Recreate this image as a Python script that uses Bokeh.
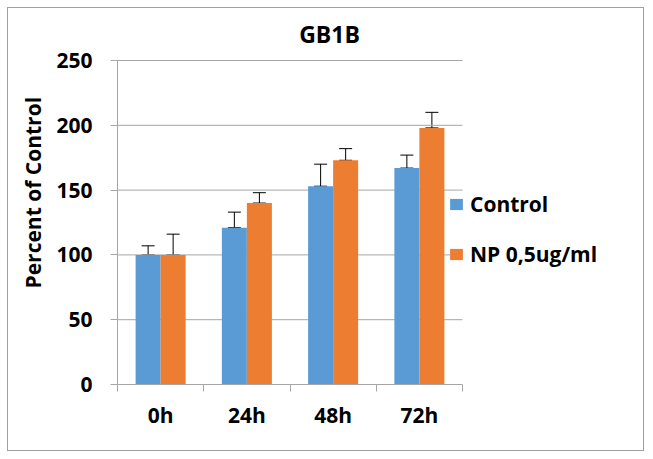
import numpy as np
from bokeh.plotting import figure
from bokeh.models import (ColumnDataSource, Whisker, TeeHead, FixedTicker, Range1d,
                          Legend, LegendItem, Title, Label)
from bokeh.embed import file_html
from bokeh.resources import INLINE

categories = ["0h", "24h", "48h", "72h"]
control = [100, 121, 153, 167]
control_err = [7, 12, 17, 10]
np_vals = [100, 140, 173, 198]
np_err = [16, 8, 9, 12]
series_names = ["Control", "NP 0,5ug/ml"]
colors = ["#5B9BD5", "#ED7D31"]
y_ticks = [0, 50, 100, 150, 200, 250]
chart_title = "GB1B"

FONT = "Open Sans"
GRAY = "#a6a6a6"

# layout (pixels)
W, H = 637, 444
ML, MR, MT, MB = 109, 5, 0, 68
frame_w = W - ML - MR
frame_h = H - MT - MB
cat_px = 345.0   # pixel span of the four categories
val_px = 324.0   # pixel span of 0..250
ymax = y_ticks[-1]
ncat = len(categories)
x_end = ncat * frame_w / cat_px
y_end = ymax * frame_h / val_px

p = figure(width=W, height=H, output_backend="svg", toolbar_location=None,
           x_range=Range1d(0, x_end), y_range=Range1d(0, y_end),
           min_border_left=ML, min_border_right=MR, min_border_top=MT,
           min_border_bottom=MB)
p.title = None
p.outline_line_color = None
p.styles = {"border": "1px solid #a0a0a0", "margin-left": "7px", "margin-top": "7px"}

# gridlines limited to the category span
gy = [t for t in y_ticks if t > 0]
p.segment(x0=[0] * len(gy), x1=[ncat] * len(gy), y0=gy, y1=gy,
          line_color=GRAY, line_width=1)

centers = np.arange(ncat) + 0.5
offset = 0.145
bw = 0.29
renderers = []
for i, (vals, errs) in enumerate([(control, control_err), (np_vals, np_err)]):
    xs = centers + (i - 0.5) * 2 * offset
    src = ColumnDataSource(dict(x=xs, top=vals, upper=np.array(vals) + np.array(errs)))
    r = p.vbar(x="x", top="top", width=bw, bottom=0, source=src,
               fill_color=colors[i], line_color=None)
    renderers.append(r)
    w = Whisker(base="x", lower="top", upper="upper", source=src,
                line_color="black", line_width=1,
                upper_head=TeeHead(size=13, line_color="black", line_width=1),
                lower_head=TeeHead(size=13, line_color="black", line_width=1))
    p.add_layout(w)

# axes
p.xaxis.bounds = (0, ncat)
p.xaxis.ticker = FixedTicker(ticks=list(centers), minor_ticks=list(range(ncat + 1)))
p.xaxis.major_label_overrides = {float(c): lab for c, lab in zip(centers, categories)}
p.xaxis.major_tick_out = 0
p.xaxis.major_tick_in = 0
p.xaxis.minor_tick_out = 7
p.xaxis.minor_tick_in = 0
p.xaxis.minor_tick_line_color = GRAY
p.xaxis.axis_line_color = GRAY
p.xaxis.major_label_text_font = FONT
p.xaxis.major_label_text_font_style = "bold"
p.xaxis.major_label_text_font_size = "21px"
p.xaxis.major_label_text_color = "black"
p.xaxis.major_label_standoff = 9

p.yaxis.bounds = (0, ymax)
p.yaxis.ticker = FixedTicker(ticks=y_ticks)
p.yaxis.major_tick_out = 7
p.yaxis.major_tick_in = 0
p.yaxis.minor_tick_line_color = None
p.yaxis.major_tick_line_color = GRAY
p.yaxis.axis_line_color = GRAY
p.yaxis.major_label_text_font = FONT
p.yaxis.major_label_text_font_style = "bold"
p.yaxis.major_label_text_font_size = "21px"
p.yaxis.major_label_text_color = "black"
p.yaxis.major_label_standoff = 18

p.xgrid.grid_line_color = None
p.ygrid.grid_line_color = None

ylab = Title(text="Percent of Control", align="left", offset=96,
             text_font=FONT, text_font_style="bold", text_font_size="21px",
             text_color="black", standoff=13)
p.add_layout(ylab, "left")

# chart title placed inside the (extended) frame, above the plot area
title_x = (329 - 117) / cat_px * ncat
title_y = (384 - 33) / val_px * ymax
title = Label(x=title_x, y=title_y, text=chart_title, text_align="center",
              text_baseline="middle", text_font=FONT, text_font_style="bold",
              text_font_size="23px", text_color="black")
p.add_layout(title)

legend = Legend(items=[LegendItem(label=series_names[i], renderers=[renderers[i]]) for i in range(2)],
                location=(331, 116), orientation="vertical",
                border_line_color=None, background_fill_alpha=0,
                padding=0, margin=0, spacing=22,
                glyph_width=16, glyph_height=14, label_height=20,
                label_standoff=6,
                label_text_font=FONT, label_text_font_style="bold",
                label_text_font_size="21px", label_text_color="black")
p.add_layout(legend, "center")

open("out.html", "w").write(file_html(p, INLINE))
